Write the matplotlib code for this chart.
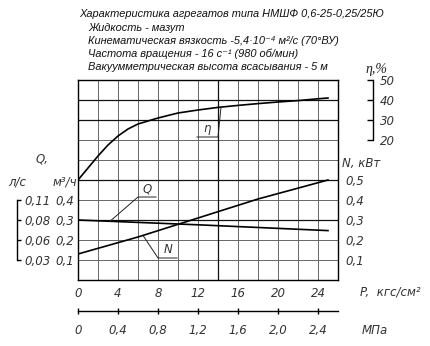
import numpy as np
import matplotlib
matplotlib.use("Agg")
import matplotlib.pyplot as plt

# --- data ---
p_eta = [0, 1, 2, 3, 4, 5, 6, 8, 10, 12, 14, 16, 18, 20, 22, 24, 25]
eta = [0, 6, 12, 17.5, 22, 25.5, 28, 31, 33.5, 35, 36.3, 37.3, 38.2, 39, 39.7, 40.6, 41]

p_q = [0, 12, 25]
q_m3h = [0.300, 0.276, 0.247]

p_n = [0, 6, 12, 18, 25]
n_kw = [0.13, 0.215, 0.31, 0.405, 0.50]

p_ticks = [0, 4, 8, 12, 16, 20, 24]
mpa_labels = ["0", "0,4", "0,8", "1,2", "1,6", "2,0", "2,4"]
q_ticks = [0.1, 0.2, 0.3, 0.4]
q_labels = ["0,1", "0,2", "0,3", "0,4"]
q_ls_labels = ["0,03", "0,06", "0,08", "0,11"]
n_ticks = [0.1, 0.2, 0.3, 0.4, 0.5]
n_labels = ["0,1", "0,2", "0,3", "0,4", "0,5"]
eta_ticks = [20, 30, 40, 50]

header = [
    "Характеристика агрегатов типа НМШФ 0,6-25-0,25/25Ю",
    "Жидкость - мазут",
    "Кинематическая вязкость -5,4·10⁻⁴ м²/с (70°ВУ)",
    "Частота вращения - 16 с⁻¹ (980 об/мин)",
    "Вакуумметрическая высота всасывания - 5 м",
]

W, H = 430, 346
PX = 72 / 100  # points per pixel
NARROW = ["Liberation Sans Narrow", "DejaVu Sans"]
SANS = ["Liberation Sans", "DejaVu Sans"]
tick_font = dict(family=NARROW, style="italic", size=8.5, color="#333333")


def fx(x):
    return x / W


def fy(y):
    return 1 - y / H


fig = plt.figure(figsize=(W / 100, H / 100), dpi=100)
ax = fig.add_axes([fx(78), fy(280), 260 / W, 200 / H])
ax.set_xlim(0, 26)
ax.set_ylim(0, 1.0)

# grid
ax.set_xticks(np.arange(0, 27, 2), minor=True)
ax.set_yticks(np.arange(0, 1.01, 0.1), minor=True)
ax.grid(which="both", color="#666666", lw=0.7)
for r in [0.3, 0.5, 0.8, 0.9]:
    ax.axhline(r, color="#111111", lw=0.9)
ax.axvline(14, color="#111111", lw=0.9)
for s in ax.spines.values():
    s.set_linewidth(1.0)
    s.set_color("black")

ax.set_xticks(p_ticks, [str(p) for p in p_ticks])
ax.set_yticks(q_ticks, q_labels)
ax.tick_params(which="both", length=0)
ax.tick_params(axis="x", pad=5)
ax.tick_params(axis="y", pad=3)
for lab in ax.get_xticklabels() + ax.get_yticklabels():
    lab.set(**tick_font)

# Q curve
ax.plot(p_q, q_m3h, color="black", lw=1.2)

# N axis (right)
axn = ax.twinx()
axn.set_ylim(0, 1.0)
for s in axn.spines.values():
    s.set_visible(False)
axn.set_yticks(n_ticks, n_labels)
axn.tick_params(length=0, pad=5)
for lab in axn.get_yticklabels():
    lab.set(**tick_font)
axn.plot(p_n, n_kw, color="black", lw=1.2)

# eta axis (bracket on right)
axe = ax.twinx()
axe.set_ylim(-50, 50)
for k, s in axe.spines.items():
    s.set_visible(k == "right")
axe.spines["right"].set_position(("outward", 35 * PX))
axe.spines["right"].set_bounds(20, 50)
axe.spines["right"].set_linewidth(1.0)
axe.set_yticks(eta_ticks, [str(e) for e in eta_ticks])
axe.tick_params(direction="in", length=4, width=1.0, pad=5)
for lab in axe.get_yticklabels():
    lab.set(**tick_font)
axe.plot(p_eta, eta, color="black", lw=1.2)

# l/s axis (bracket on left)
axl = ax.twinx()
axl.set_ylim(0, 1.0)
for k, s in axl.spines.items():
    s.set_visible(k == "right")
axl.spines["right"].set_position(("axes", -61 / 260))
axl.spines["right"].set_bounds(0.1, 0.4)
axl.spines["right"].set_linewidth(1.0)
axl.set_yticks(q_ticks, q_ls_labels)
axl.tick_params(direction="out", length=3, width=1.0, pad=2)
for lab in axl.get_yticklabels():
    lab.set(**tick_font)

# MPa axis (below)
axm = ax.twiny()
axm.set_xlim(0, 26)
for k, s in axm.spines.items():
    s.set_visible(k == "bottom")
axm.spines["bottom"].set_position(("outward", 31 * PX))
axm.spines["bottom"].set_linewidth(1.0)
axm.xaxis.set_ticks_position("bottom")
axm.xaxis.set_label_position("bottom")
axm.set_xticks(p_ticks, mpa_labels)
axm.tick_params(direction="inout", length=5, width=1.0, pad=7)
for lab in axm.get_xticklabels():
    lab.set(**tick_font)

# leaders
lead = dict(color="#222222", lw=0.7)
e_a = np.interp(14.3, p_eta, eta)
axe.plot([14.3, 14.0, 11.9], [e_a, 21.5, 21.5], **lead)
axe.text(12.9, 22.5, "η", ha="center", va="bottom", **tick_font)

q_a = np.interp(3.2, p_q, q_m3h)
ax.plot([3.2, 6.0, 7.8], [q_a, 0.415, 0.415], **lead)
ax.text(6.9, 0.425, "Q", ha="center", va="bottom", **tick_font)

n_a = np.interp(6.5, p_n, n_kw)
ax.plot([6.5, 8.0, 9.9], [n_a, 0.11, 0.11], **lead)
ax.text(9.0, 0.12, "N", ha="center", va="bottom", **tick_font)

# axis unit labels
fig.text(fx(36), fy(159), "Q,", ha="left", va="center", **tick_font)
fig.text(fx(8), fy(182), "л/с", ha="left", va="center", **tick_font)
fig.text(fx(77), fy(182), "м³/ч", ha="right", va="center", **tick_font)
fig.text(fx(342), fy(163), "N, кВт", ha="left", va="center", **tick_font)
fig.text(fx(360), fy(292), "P,  кгс/см²", ha="left", va="center", **tick_font)
fig.text(fx(362), fy(330), "МПа", ha="left", va="center", **tick_font)
fig.text(fx(366), fy(70), "η,%", ha="left", va="center",
         family=["Liberation Serif", "DejaVu Serif"], style="italic", size=10, color="#222222")

# header
fig.text(fx(79), fy(14), header[0], ha="left", va="center",
         family=SANS, style="italic", size=7.9, color="#111111")
for y, line in zip([28, 41, 54, 67], header[1:]):
    fig.text(fx(88), fy(y), line, ha="left", va="center",
             family=SANS, style="italic", size=7.9, color="#111111")

fig.savefig("out.png", dpi=100)
